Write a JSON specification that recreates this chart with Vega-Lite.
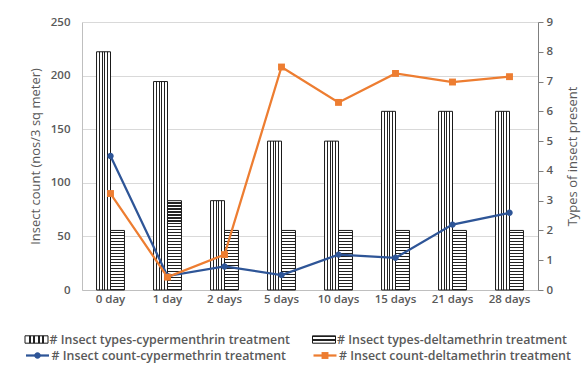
{
  "$schema": "https://vega.github.io/schema/vega-lite/v6.json",
  "width": 456,
  "height": 268,
  "autosize": {"type": "none"},
  "padding": {"left": 82, "top": 22, "right": 46, "bottom": 79},
  "background": "white",
  "config": {
    "view": {"stroke": null},
    "font": "Open Sans",
    "axis": {"labelColor": "#595959", "titleColor": "#595959", "labelFontSize": 11.5, "titleFontSize": 13, "titleFontWeight": "normal", "labelFontWeight": 600, "labelFont": "Open Sans", "titleFont": "Open Sans"},
    "legend": {"labelFont": "Open Sans", "labelFontSize": 12.4, "labelFontWeight": 600, "labelColor": "#595959", "labelLimit": 400, "padding": 0, "rowPadding": 0, "title": null}
  },
  "datasets": {
    "types": [
      {"day": "0 day", "series": "# Insect types-cypermenthrin treatment", "types": 8},
      {"day": "1 day", "series": "# Insect types-cypermenthrin treatment", "types": 7},
      {"day": "2 days", "series": "# Insect types-cypermenthrin treatment", "types": 3},
      {"day": "5 days", "series": "# Insect types-cypermenthrin treatment", "types": 5},
      {"day": "10 days", "series": "# Insect types-cypermenthrin treatment", "types": 5},
      {"day": "15 days", "series": "# Insect types-cypermenthrin treatment", "types": 6},
      {"day": "21 days", "series": "# Insect types-cypermenthrin treatment", "types": 6},
      {"day": "28 days", "series": "# Insect types-cypermenthrin treatment", "types": 6},
      {"day": "0 day", "series": "# Insect types-deltamethrin treatment", "types": 2},
      {"day": "1 day", "series": "# Insect types-deltamethrin treatment", "types": 3},
      {"day": "2 days", "series": "# Insect types-deltamethrin treatment", "types": 2},
      {"day": "5 days", "series": "# Insect types-deltamethrin treatment", "types": 2},
      {"day": "10 days", "series": "# Insect types-deltamethrin treatment", "types": 2},
      {"day": "15 days", "series": "# Insect types-deltamethrin treatment", "types": 2},
      {"day": "21 days", "series": "# Insect types-deltamethrin treatment", "types": 2},
      {"day": "28 days", "series": "# Insect types-deltamethrin treatment", "types": 2}
    ],
    "counts": [
      {"day": "0 day", "series": "# Insect count-cypermethrin treatment", "count": 125},
      {"day": "1 day", "series": "# Insect count-cypermethrin treatment", "count": 13},
      {"day": "2 days", "series": "# Insect count-cypermethrin treatment", "count": 22},
      {"day": "5 days", "series": "# Insect count-cypermethrin treatment", "count": 14},
      {"day": "10 days", "series": "# Insect count-cypermethrin treatment", "count": 33},
      {"day": "15 days", "series": "# Insect count-cypermethrin treatment", "count": 30},
      {"day": "21 days", "series": "# Insect count-cypermethrin treatment", "count": 61},
      {"day": "28 days", "series": "# Insect count-cypermethrin treatment", "count": 72},
      {"day": "0 day", "series": "# Insect count-deltamethrin treatment", "count": 90},
      {"day": "1 day", "series": "# Insect count-deltamethrin treatment", "count": 12},
      {"day": "2 days", "series": "# Insect count-deltamethrin treatment", "count": 33},
      {"day": "5 days", "series": "# Insect count-deltamethrin treatment", "count": 208},
      {"day": "10 days", "series": "# Insect count-deltamethrin treatment", "count": 175},
      {"day": "15 days", "series": "# Insect count-deltamethrin treatment", "count": 202},
      {"day": "21 days", "series": "# Insect count-deltamethrin treatment", "count": 194},
      {"day": "28 days", "series": "# Insect count-deltamethrin treatment", "count": 199}
    ]
  },
  "layer": [
    {
      "data": {"name": "types"},
      "layer": [
        {
          "transform": [{"filter": "indexof(datum.series, 'cyper') >= 0"}],
          "mark": {"type": "bar", "strokeWidth": 1},
          "encoding": {
            "x": {"field": "day", "type": "nominal",
              "scale": {"type": "band", "domain": ["0 day", "1 day", "2 days", "5 days", "10 days", "15 days", "21 days", "28 days"], "paddingInner": 0.51, "paddingOuter": 0.255},
              "axis": {"title": null, "labelAngle": 0, "ticks": false, "domainColor": "#bfbfbf", "labelPadding": 3}},
            "xOffset": {"field": "series", "type": "nominal", "scale": {"domain": ["# Insect types-cypermenthrin treatment", "# Insect types-deltamethrin treatment"], "paddingInner": 0, "paddingOuter": 0}},
            "y": {"field": "types", "type": "quantitative", "scale": {"domain": [0, 9], "nice": false},
              "axis": {"orient": "right", "title": "Types of insect present", "values": [0, 1, 2, 3, 4, 5, 6, 7, 8, 9], "grid": false, "ticks": true, "tickSize": 5, "tickColor": "#7f7f7f", "domainColor": "#7f7f7f", "labelPadding": 3, "titleAngle": 270, "titleBaseline": "top", "titlePadding": 14}},
            "stroke": {"field": "series", "type": "nominal", "scale": {"range": ["#1a1a1a"]},
              "legend": {"orient": "none", "legendX": -57.5, "legendY": 305.5, "symbolSize": 529, "symbolType": "M-1,-0.32H1V0.32H-1Z", "symbolStrokeWidth": 1, "labelOffset": 1, "symbolOpacity": 1}},
            "fill": {"value": {"gradient": "linear", "x1": 0, "y1": 0, "x2": 1, "y2": 0, "stops": [
              {"offset": 0, "color": "#fff"}, {"offset": 0.16, "color": "#fff"}, {"offset": 0.16, "color": "#222"}, {"offset": 0.24, "color": "#222"}, {"offset": 0.24, "color": "#fff"}, {"offset": 0.36, "color": "#fff"}, {"offset": 0.36, "color": "#222"}, {"offset": 0.44, "color": "#222"}, {"offset": 0.44, "color": "#fff"}, {"offset": 0.56, "color": "#fff"}, {"offset": 0.56, "color": "#222"}, {"offset": 0.64, "color": "#222"}, {"offset": 0.64, "color": "#fff"}, {"offset": 0.76, "color": "#fff"}, {"offset": 0.76, "color": "#222"}, {"offset": 0.84, "color": "#222"}, {"offset": 0.84, "color": "#fff"}, {"offset": 1, "color": "#fff"}]}}
          }
        },
        {
          "transform": [{"filter": "indexof(datum.series, 'delta') >= 0"}],
          "mark": {"type": "bar", "strokeWidth": 1},
          "encoding": {
            "x": {"field": "day", "type": "nominal", "scale": {"type": "band"}},
            "xOffset": {"field": "series", "type": "nominal"},
            "y": {"field": "types", "type": "quantitative",
              "axis": {"orient": "right", "title": "Types of insect present", "values": [0, 1, 2, 3, 4, 5, 6, 7, 8, 9], "grid": false, "ticks": true, "tickSize": 5, "tickColor": "#7f7f7f", "domainColor": "#7f7f7f", "labelPadding": 3, "titleAngle": 270, "titleBaseline": "top", "titlePadding": 14}},
            "stroke": {"field": "series", "type": "nominal", "scale": {"range": ["#1a1a1a"]},
              "legend": {"orient": "none", "legendX": 230, "legendY": 305.5, "symbolSize": 529, "symbolType": "M-1,-0.32H1V0.32H-1Z", "symbolStrokeWidth": 1, "labelOffset": 1, "symbolOpacity": 1}},
            "fill": {
              "condition": {"test": "datum.types === 3", "value": {"gradient": "linear", "x1": 0, "y1": 0, "x2": 0, "y2": 1, "stops": [
                {"offset": 0, "color": "#fff"}, {"offset": 0.02, "color": "#fff"}, {"offset": 0.02, "color": "#222"}, {"offset": 0.0333, "color": "#222"},
                {"offset": 0.0333, "color": "#fff"}, {"offset": 0.0533, "color": "#fff"}, {"offset": 0.0533, "color": "#222"}, {"offset": 0.0667, "color": "#222"},
                {"offset": 0.0667, "color": "#fff"}, {"offset": 0.0867, "color": "#fff"}, {"offset": 0.0867, "color": "#222"}, {"offset": 0.1, "color": "#222"},
                {"offset": 0.1, "color": "#fff"}, {"offset": 0.12, "color": "#fff"}, {"offset": 0.12, "color": "#222"}, {"offset": 0.1333, "color": "#222"},
                {"offset": 0.1333, "color": "#fff"}, {"offset": 0.1533, "color": "#fff"}, {"offset": 0.1533, "color": "#222"}, {"offset": 0.1667, "color": "#222"},
                {"offset": 0.1667, "color": "#fff"}, {"offset": 0.1867, "color": "#fff"}, {"offset": 0.1867, "color": "#222"}, {"offset": 0.2, "color": "#222"},
                {"offset": 0.2, "color": "#fff"}, {"offset": 0.22, "color": "#fff"}, {"offset": 0.22, "color": "#222"}, {"offset": 0.2333, "color": "#222"},
                {"offset": 0.2333, "color": "#fff"}, {"offset": 0.2533, "color": "#fff"}, {"offset": 0.2533, "color": "#222"}, {"offset": 0.2667, "color": "#222"},
                {"offset": 0.2667, "color": "#fff"}, {"offset": 0.2867, "color": "#fff"}, {"offset": 0.2867, "color": "#222"}, {"offset": 0.3, "color": "#222"},
                {"offset": 0.3, "color": "#fff"}, {"offset": 0.32, "color": "#fff"}, {"offset": 0.32, "color": "#222"}, {"offset": 0.3333, "color": "#222"},
                {"offset": 0.3333, "color": "#fff"}, {"offset": 0.3533, "color": "#fff"}, {"offset": 0.3533, "color": "#222"}, {"offset": 0.3667, "color": "#222"},
                {"offset": 0.3667, "color": "#fff"}, {"offset": 0.3867, "color": "#fff"}, {"offset": 0.3867, "color": "#222"}, {"offset": 0.4, "color": "#222"},
                {"offset": 0.4, "color": "#fff"}, {"offset": 0.42, "color": "#fff"}, {"offset": 0.42, "color": "#222"}, {"offset": 0.4333, "color": "#222"},
                {"offset": 0.4333, "color": "#fff"}, {"offset": 0.4533, "color": "#fff"}, {"offset": 0.4533, "color": "#222"}, {"offset": 0.4667, "color": "#222"},
                {"offset": 0.4667, "color": "#fff"}, {"offset": 0.4867, "color": "#fff"}, {"offset": 0.4867, "color": "#222"}, {"offset": 0.5, "color": "#222"},
                {"offset": 0.5, "color": "#fff"}, {"offset": 0.52, "color": "#fff"}, {"offset": 0.52, "color": "#222"}, {"offset": 0.5333, "color": "#222"},
                {"offset": 0.5333, "color": "#fff"}, {"offset": 0.5533, "color": "#fff"}, {"offset": 0.5533, "color": "#222"}, {"offset": 0.5667, "color": "#222"},
                {"offset": 0.5667, "color": "#fff"}, {"offset": 0.5867, "color": "#fff"}, {"offset": 0.5867, "color": "#222"}, {"offset": 0.6, "color": "#222"},
                {"offset": 0.6, "color": "#fff"}, {"offset": 0.62, "color": "#fff"}, {"offset": 0.62, "color": "#222"}, {"offset": 0.6333, "color": "#222"},
                {"offset": 0.6333, "color": "#fff"}, {"offset": 0.6533, "color": "#fff"}, {"offset": 0.6533, "color": "#222"}, {"offset": 0.6667, "color": "#222"},
                {"offset": 0.6667, "color": "#fff"}, {"offset": 0.6867, "color": "#fff"}, {"offset": 0.6867, "color": "#222"}, {"offset": 0.7, "color": "#222"},
                {"offset": 0.7, "color": "#fff"}, {"offset": 0.72, "color": "#fff"}, {"offset": 0.72, "color": "#222"}, {"offset": 0.7333, "color": "#222"},
                {"offset": 0.7333, "color": "#fff"}, {"offset": 0.7533, "color": "#fff"}, {"offset": 0.7533, "color": "#222"}, {"offset": 0.7667, "color": "#222"},
                {"offset": 0.7667, "color": "#fff"}, {"offset": 0.7867, "color": "#fff"}, {"offset": 0.7867, "color": "#222"}, {"offset": 0.8, "color": "#222"},
                {"offset": 0.8, "color": "#fff"}, {"offset": 0.82, "color": "#fff"}, {"offset": 0.82, "color": "#222"}, {"offset": 0.8333, "color": "#222"},
                {"offset": 0.8333, "color": "#fff"}, {"offset": 0.8533, "color": "#fff"}, {"offset": 0.8533, "color": "#222"}, {"offset": 0.8667, "color": "#222"},
                {"offset": 0.8667, "color": "#fff"}, {"offset": 0.8867, "color": "#fff"}, {"offset": 0.8867, "color": "#222"}, {"offset": 0.9, "color": "#222"},
                {"offset": 0.9, "color": "#fff"}, {"offset": 0.92, "color": "#fff"}, {"offset": 0.92, "color": "#222"}, {"offset": 0.9333, "color": "#222"},
                {"offset": 0.9333, "color": "#fff"}, {"offset": 0.9533, "color": "#fff"}, {"offset": 0.9533, "color": "#222"}, {"offset": 0.9667, "color": "#222"},
                {"offset": 0.9667, "color": "#fff"}, {"offset": 0.9867, "color": "#fff"}, {"offset": 0.9867, "color": "#222"}, {"offset": 1, "color": "#222"}]}},
              "value": {"gradient": "linear", "x1": 0, "y1": 0, "x2": 0, "y2": 1, "stops": [
                {"offset": 0, "color": "#fff"}, {"offset": 0.03, "color": "#fff"}, {"offset": 0.03, "color": "#222"}, {"offset": 0.05, "color": "#222"},
                {"offset": 0.05, "color": "#fff"}, {"offset": 0.08, "color": "#fff"}, {"offset": 0.08, "color": "#222"}, {"offset": 0.1, "color": "#222"},
                {"offset": 0.1, "color": "#fff"}, {"offset": 0.13, "color": "#fff"}, {"offset": 0.13, "color": "#222"}, {"offset": 0.15, "color": "#222"},
                {"offset": 0.15, "color": "#fff"}, {"offset": 0.18, "color": "#fff"}, {"offset": 0.18, "color": "#222"}, {"offset": 0.2, "color": "#222"},
                {"offset": 0.2, "color": "#fff"}, {"offset": 0.23, "color": "#fff"}, {"offset": 0.23, "color": "#222"}, {"offset": 0.25, "color": "#222"},
                {"offset": 0.25, "color": "#fff"}, {"offset": 0.28, "color": "#fff"}, {"offset": 0.28, "color": "#222"}, {"offset": 0.3, "color": "#222"},
                {"offset": 0.3, "color": "#fff"}, {"offset": 0.33, "color": "#fff"}, {"offset": 0.33, "color": "#222"}, {"offset": 0.35, "color": "#222"},
                {"offset": 0.35, "color": "#fff"}, {"offset": 0.38, "color": "#fff"}, {"offset": 0.38, "color": "#222"}, {"offset": 0.4, "color": "#222"},
                {"offset": 0.4, "color": "#fff"}, {"offset": 0.43, "color": "#fff"}, {"offset": 0.43, "color": "#222"}, {"offset": 0.45, "color": "#222"},
                {"offset": 0.45, "color": "#fff"}, {"offset": 0.48, "color": "#fff"}, {"offset": 0.48, "color": "#222"}, {"offset": 0.5, "color": "#222"},
                {"offset": 0.5, "color": "#fff"}, {"offset": 0.53, "color": "#fff"}, {"offset": 0.53, "color": "#222"}, {"offset": 0.55, "color": "#222"},
                {"offset": 0.55, "color": "#fff"}, {"offset": 0.58, "color": "#fff"}, {"offset": 0.58, "color": "#222"}, {"offset": 0.6, "color": "#222"},
                {"offset": 0.6, "color": "#fff"}, {"offset": 0.63, "color": "#fff"}, {"offset": 0.63, "color": "#222"}, {"offset": 0.65, "color": "#222"},
                {"offset": 0.65, "color": "#fff"}, {"offset": 0.68, "color": "#fff"}, {"offset": 0.68, "color": "#222"}, {"offset": 0.7, "color": "#222"},
                {"offset": 0.7, "color": "#fff"}, {"offset": 0.73, "color": "#fff"}, {"offset": 0.73, "color": "#222"}, {"offset": 0.75, "color": "#222"},
                {"offset": 0.75, "color": "#fff"}, {"offset": 0.78, "color": "#fff"}, {"offset": 0.78, "color": "#222"}, {"offset": 0.8, "color": "#222"},
                {"offset": 0.8, "color": "#fff"}, {"offset": 0.83, "color": "#fff"}, {"offset": 0.83, "color": "#222"}, {"offset": 0.85, "color": "#222"},
                {"offset": 0.85, "color": "#fff"}, {"offset": 0.88, "color": "#fff"}, {"offset": 0.88, "color": "#222"}, {"offset": 0.9, "color": "#222"},
                {"offset": 0.9, "color": "#fff"}, {"offset": 0.93, "color": "#fff"}, {"offset": 0.93, "color": "#222"}, {"offset": 0.95, "color": "#222"},
                {"offset": 0.95, "color": "#fff"}, {"offset": 0.98, "color": "#fff"}, {"offset": 0.98, "color": "#222"}, {"offset": 1, "color": "#222"}]}
            }
          }
        }
      ],
      "resolve": {"scale": {"stroke": "independent"}}
    },
    {
      "data": {"name": "counts"},
      "layer": [
        {
          "transform": [{"filter": "indexof(datum.series, 'cyper') >= 0"}],
          "mark": {"type": "line", "strokeWidth": 2.25},
          "encoding": {
            "x": {"field": "day", "type": "nominal", "scale": {"type": "band"}},
            "y": {"field": "count", "type": "quantitative", "scale": {"domain": [0, 250], "nice": false},
              "axis": {"orient": "left", "title": "Insect count (nos/3 sq meter)", "values": [0, 50, 100, 150, 200, 250], "grid": true, "gridColor": "#d9d9d9", "ticks": false, "domain": true, "domainColor": "#bfbfbf", "labelPadding": 12, "titlePadding": 8}},
            "stroke": {"field": "series", "type": "nominal", "scale": {"range": ["#2E5597"]},
              "legend": {"orient": "none", "legendX": -57.5, "legendY": 320.5, "symbolSize": 529, "symbolType": "stroke", "symbolStrokeWidth": 2.25, "labelOffset": 1, "symbolOpacity": 1}}
          }
        },
        {
          "transform": [{"filter": "indexof(datum.series, 'delta') >= 0"}],
          "mark": {"type": "line", "strokeWidth": 2.25},
          "encoding": {
            "x": {"field": "day", "type": "nominal", "scale": {"type": "band"}},
            "y": {"field": "count", "type": "quantitative",
              "axis": {"orient": "left", "title": "Insect count (nos/3 sq meter)", "values": [0, 50, 100, 150, 200, 250], "grid": true, "gridColor": "#d9d9d9", "ticks": false, "domain": true, "domainColor": "#bfbfbf", "labelPadding": 12, "titlePadding": 8}},
            "stroke": {"field": "series", "type": "nominal", "scale": {"range": ["#ED7D31"]},
              "legend": {"orient": "none", "legendX": 230, "legendY": 320.5, "symbolSize": 529, "symbolType": "stroke", "symbolStrokeWidth": 2.25, "labelOffset": 1, "symbolOpacity": 1}}
          }
        },
        {
          "transform": [{"filter": "indexof(datum.series, 'cyper') >= 0"}],
          "mark": {"type": "point", "filled": true, "opacity": 1, "strokeWidth": 0, "size": 529, "shape": "M-0.28,0A0.28,0.28 0 1,1 0.28,0A0.28,0.28 0 1,1 -0.28,0Z"},
          "encoding": {
            "x": {"field": "day", "type": "nominal", "scale": {"type": "band"}},
            "y": {"field": "count", "type": "quantitative"},
            "fill": {"field": "series", "type": "nominal", "scale": {"range": ["#2E5597"]},
              "legend": {"orient": "none", "legendX": -57.5, "legendY": 320.5, "symbolSize": 529, "symbolType": "M-0.28,0A0.28,0.28 0 1,1 0.28,0A0.28,0.28 0 1,1 -0.28,0Z", "symbolStrokeWidth": 2.25, "symbolStrokeColor": "transparent", "labelOffset": 1, "labelColor": "transparent", "labelOpacity": 0, "symbolOpacity": 1}}
          }
        },
        {
          "transform": [{"filter": "indexof(datum.series, 'delta') >= 0"}],
          "mark": {"type": "point", "filled": true, "opacity": 1, "strokeWidth": 0, "size": 529, "shape": "M-0.3,-0.3H0.3V0.3H-0.3Z"},
          "encoding": {
            "x": {"field": "day", "type": "nominal", "scale": {"type": "band"}},
            "y": {"field": "count", "type": "quantitative"},
            "fill": {"field": "series", "type": "nominal", "scale": {"range": ["#ED7D31"]},
              "legend": {"orient": "none", "legendX": 230, "legendY": 320.5, "symbolSize": 529, "symbolType": "M-0.3,-0.3H0.3V0.3H-0.3Z", "symbolStrokeWidth": 2.25, "symbolStrokeColor": "transparent", "labelOffset": 1, "labelColor": "transparent", "labelOpacity": 0, "symbolOpacity": 1}}
          }
        }
      ],
      "resolve": {"scale": {"stroke": "independent", "fill": "independent"}}
    }
  ],
  "resolve": {"scale": {"y": "independent", "fill": "independent", "stroke": "independent"}}
}
